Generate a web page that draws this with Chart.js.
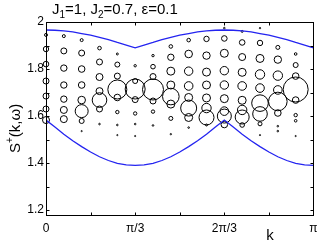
<!DOCTYPE html>
<html>
<head>
<meta charset="utf-8">
<script src="https://cdn.jsdelivr.net/npm/chart.js@4.4.0/dist/chart.umd.min.js"></script>
<style>
  html, body { margin: 0; padding: 0; background: #fff; }
  #wrap { width: 327px; height: 247px; }
</style>
</head>
<body>
<div id="wrap"><canvas id="chart"></canvas></div>
<script>
const PI = Math.PI;
const FONT = '"Liberation Sans", Arial, sans-serif';

const xTickLabels = ['0', 'π/3', '2π/3', 'π'];
const yTickLabels = ['1.2', '1.4', '1.6', '1.8', '2'];

// bubble columns sit at k = n*pi/15
const kSteps = [0, 1, 2, 3, 4, 5, 6, 7, 8, 9, 10, 11, 12, 13, 14];
const omegas = [
  [1.945, 1.885, 1.821, 1.749, 1.685, 1.630, 1.583],
  [1.940, 1.877, 1.804, 1.732, 1.672, 1.626, 1.587],
  [1.923, 1.868, 1.800, 1.732, 1.668, 1.621, 1.579, 1.536],
  [1.889, 1.830, 1.766, 1.706, 1.668, 1.630, 1.566],
  [1.864, 1.819, 1.770, 1.713, 1.679, 1.617, 1.562, 1.519],
  [1.814, 1.749, 1.715, 1.670, 1.611, 1.566, 1.515],
  [1.857, 1.810, 1.768, 1.713, 1.664, 1.619, 1.560],
  [1.896, 1.850, 1.791, 1.732, 1.683, 1.651, 1.590, 1.523],
  [1.923, 1.864, 1.791, 1.728, 1.679, 1.634, 1.594, 1.551],
  [1.928, 1.857, 1.787, 1.732, 1.677, 1.634, 1.594, 1.562],
  [1.974, 1.930, 1.867, 1.793, 1.732, 1.674, 1.621, 1.600, 1.564],
  [1.960, 1.913, 1.851, 1.786, 1.728, 1.667, 1.626, 1.596, 1.562],
  [1.974, 1.911, 1.845, 1.777, 1.719, 1.655, 1.609, 1.567, 1.519],
  [1.892, 1.840, 1.772, 1.711, 1.662, 1.613, 1.557, 1.536],
  [1.864, 1.817, 1.770, 1.713, 1.668, 1.604, 1.580, 1.515],
];
const weights = [
  [1.5, 2.7, 2.8, 3, 3, 3, 3.5],
  [1.5, 3, 3.2, 3.2, 3.2, 3.5, 3.5],
  [1.5, 3, 3.3, 3.3, 3.8, 6.5, 2.5, 0.6],
  [1.8, 3, 3.5, 3.5, 7.3, 3, 0.8],
  [1, 2.5, 3, 9.5, 3.3, 1.7, 0.8, 0.6],
  [1.2, 2.5, 10, 3, 1.7, 0.8, 0.6],
  [1.2, 2.3, 3, 10.5, 3, 1.7, 0.8],
  [1.8, 3.2, 4, 4, 8.3, 4, 2, 0.7],
  [1.8, 3.8, 4.2, 4.3, 4, 8, 4, 0.8],
  [2.7, 3.7, 4, 4, 4, 4.7, 7.5, 1],
  [0.8, 2.8, 4, 4.2, 4.2, 4, 4.3, 7, 3.3],
  [1, 2.8, 3.5, 4, 4.3, 4, 4.7, 7, 2.3],
  [0.7, 2.7, 4, 4.7, 4.3, 8.3, 7.3, 2, 0.6],
  [2, 3.7, 4.7, 4.3, 9.3, 3.3, 0.8, 0.8],
  [1.3, 2.5, 3.3, 12.5, 3.3, 1.7, 1.3, 0.6],
];

// continuum edges read at k = n*pi/30
const edgeSteps = [0, 1, 2, 3, 4, 5, 6, 7, 8, 9, 10, 11, 12, 13, 14, 15,
  16, 17, 18, 19, 20, 21, 22, 23, 24, 25, 26, 27, 28, 29, 30];
const upperEdge = [1.966, 1.965, 1.962, 1.958, 1.951, 1.944, 1.935, 1.925,
  1.913, 1.902, 1.890, 1.902, 1.913, 1.925, 1.935, 1.944, 1.951, 1.958,
  1.962, 1.965, 1.966, 1.965, 1.962, 1.958, 1.951, 1.944, 1.935, 1.925,
  1.913, 1.902, 1.890];
const lowerEdge = [1.583, 1.553, 1.523, 1.495, 1.470, 1.447, 1.427, 1.411,
  1.399, 1.392, 1.390, 1.392, 1.399, 1.411, 1.427, 1.447, 1.470, 1.495,
  1.523, 1.553, 1.583, 1.553, 1.523, 1.495, 1.470, 1.447, 1.427, 1.411,
  1.399, 1.392, 1.390];

const bubbles = [];
kSteps.forEach((n, i) => {
  omegas[i].forEach((w, j) => {
    bubbles.push({ x: (n * PI) / 15, y: w, r: weights[i][j] });
  });
});

function edgePoints(values) {
  return edgeSteps.map((n, i) => ({ x: (n * PI) / 30, y: values[i] }));
}

// text with sub/superscripts, big = main size
function drawRuns(ctx, runs, x, y, big) {
  const small = Math.round(big * 0.68);
  runs.forEach(([text, mode]) => {
    let size = big;
    let dy = 0;
    if (mode === 'sub') {
      size = small;
      dy = Math.round(big * 0.25);
    } else if (mode === 'sup') {
      size = small;
      dy = -Math.round(big * 0.45);
    }
    ctx.font = size + 'px ' + FONT;
    ctx.fillText(text, x, y + dy);
    x += ctx.measureText(text).width;
  });
}

const framePlugin = {
  id: 'frame',
  afterDraw(chart) {
    const { ctx, chartArea } = chart;
    const xs = chart.scales.x;
    const ys = chart.scales.y;
    const l = Math.round(chartArea.left) + 0.5;
    const r = Math.round(chartArea.right) - 0.5;
    const t = Math.round(chartArea.top) + 0.5;
    const b = Math.round(chartArea.bottom) - 0.5;

    ctx.save();
    ctx.strokeStyle = '#000';
    ctx.lineWidth = 1;
    ctx.strokeRect(l, t, r - l, b - t);

    ctx.beginPath();
    for (let i = 1; i < 6; i++) {
      const px = Math.round(xs.getPixelForValue((i * PI) / 6)) + 0.5;
      ctx.moveTo(px, b);
      ctx.lineTo(px, b - 3);
      ctx.moveTo(px, t);
      ctx.lineTo(px, t + 3);
    }
    for (let i = 0; i < 9; i++) {
      const py = Math.round(ys.getPixelForValue(1.2 + i * 0.1)) + 0.5;
      ctx.moveTo(l, py);
      ctx.lineTo(l + 3, py);
      ctx.moveTo(r, py);
      ctx.lineTo(r - 3, py);
    }
    ctx.stroke();

    ctx.fillStyle = '#000';
    ctx.textBaseline = 'alphabetic';
    ctx.textAlign = 'left';
    drawRuns(ctx, [['J', ''], ['1', 'sub'], ['=1, J', ''], ['2', 'sub'],
      ['=0.7, ε=0.1', '']], 52, 14, 15);

    ctx.font = '15px ' + FONT;
    ctx.textAlign = 'center';
    ctx.fillText('k', 270, 240);

    ctx.translate(20, 153);
    ctx.rotate(-PI / 2);
    ctx.textAlign = 'left';
    drawRuns(ctx, [['S', ''], ['+', 'sup'], ['(k,ω)', '']], 0, 0, 15);
    ctx.restore();
  },
};

new Chart(document.getElementById('chart'), {
  type: 'bubble',
  data: {
    datasets: [
      {
        type: 'line',
        data: edgePoints(upperEdge),
        borderColor: '#2424f0',
        borderWidth: 1.3,
        pointRadius: 0,
        tension: 0,
      },
      {
        type: 'line',
        data: edgePoints(lowerEdge),
        borderColor: '#2424f0',
        borderWidth: 1.3,
        pointRadius: 0,
        tension: 0,
      },
      {
        data: bubbles,
        backgroundColor: 'rgba(0,0,0,0)',
        borderColor: '#000',
        borderWidth: 1,
        clip: false,
      },
    ],
  },
  options: {
    responsive: true,
    maintainAspectRatio: false,
    animation: false,
    events: [],
    layout: {
      padding: { left: 0, top: 22, right: 8, bottom: 0 },
    },
    plugins: {
      legend: { display: false },
      tooltip: { enabled: false },
    },
    scales: {
      x: {
        type: 'linear',
        min: 0,
        max: PI,
        grid: { display: false, drawTicks: false },
        border: { display: false },
        afterBuildTicks(scale) {
          scale.ticks = [0, PI / 3, (2 * PI) / 3, PI].map((v) => ({ value: v }));
        },
        afterFit(scale) {
          scale.height = 31;
        },
        ticks: {
          padding: 5,
          maxRotation: 0,
          color: '#000',
          font: { family: FONT, size: 12 },
          callback: (value, index) => xTickLabels[index],
        },
      },
      y: {
        min: 1.175,
        max: 2,
        grid: { display: false, drawTicks: false },
        border: { display: false },
        afterBuildTicks(scale) {
          scale.ticks = [1.2, 1.4, 1.6, 1.8, 2].map((v) => ({ value: v }));
        },
        afterFit(scale) {
          scale.width = 46;
        },
        ticks: {
          padding: 2,
          color: '#000',
          font: { family: FONT, size: 12 },
          callback: (value, index) => yTickLabels[index],
        },
      },
    },
  },
  plugins: [framePlugin],
});
</script>
</body>
</html>
